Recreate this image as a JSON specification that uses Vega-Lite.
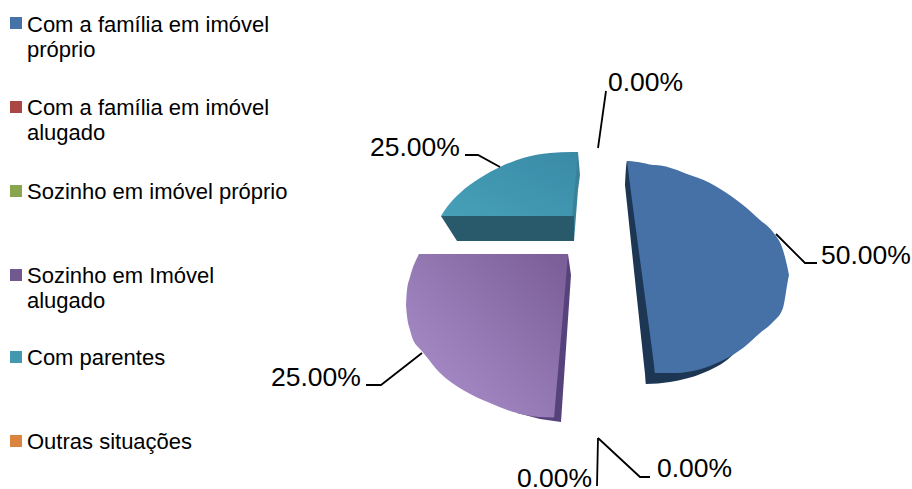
{"$schema":"https://vega.github.io/schema/vega-lite/v6.json","width":912,"height":489,"padding":0,"autosize":{"type":"none"},"background":"white","view":{"stroke":null},
"config":{"font":"Liberation Sans"},
"datasets":{
"legenda":[{"categoria":"Com a família em imóvel\npróprio","lx":16,"ly":23,"tx":27,"ty":32},{"categoria":"Com a família em imóvel\nalugado","lx":16,"ly":107,"tx":27,"ty":115},{"categoria":"Sozinho em imóvel próprio","lx":16,"ly":191,"tx":27,"ty":199},{"categoria":"Sozinho em Imóvel\nalugado","lx":16,"ly":275,"tx":27,"ty":283},{"categoria":"Com parentes","lx":16,"ly":357,"tx":27,"ty":365},{"categoria":"Outras situações","lx":16,"ly":441,"tx":27,"ty":449}],
"rotulos":[{"rotulo":"50.00%","x":821,"y":264},{"rotulo":"0.00%","x":608,"y":91},{"rotulo":"25.00%","x":370,"y":156},{"rotulo":"25.00%","x":271,"y":386},{"rotulo":"0.00%","x":657,"y":477},{"rotulo":"0.00%","x":517,"y":487}],
"guias":[{"g":"a","o":1,"x":776,"y":234},{"g":"a","o":2,"x":805,"y":263},{"g":"a","o":3,"x":817,"y":263},{"g":"b","o":1,"x":606,"y":91},{"g":"b","o":2,"x":598,"y":148},{"g":"c","o":1,"x":465,"y":155},{"g":"c","o":2,"x":478,"y":155},{"g":"c","o":3,"x":500,"y":167},{"g":"d","o":1,"x":366,"y":385},{"g":"d","o":2,"x":381,"y":385},{"g":"d","o":3,"x":422,"y":353},{"g":"e","o":1,"x":597,"y":486},{"g":"e","o":2,"x":598,"y":438},{"g":"f","o":1,"x":598,"y":438},{"g":"f","o":2,"x":640,"y":477},{"g":"f","o":3,"x":650,"y":477}],
"tealFace":[{"x":441,"y":216,"y2":216},{"x":447,"y":207,"y2":216},{"x":460,"y":193,"y2":216},{"x":480,"y":178,"y2":216},{"x":500,"y":167,"y2":216},{"x":523,"y":158,"y2":216},{"x":550,"y":153,"y2":216},{"x":572,"y":152,"y2":216},{"x":573,"y":152,"y2":205},{"x":577,"y":152,"y2":163},{"x":578,"y":152,"y2":152}],
"tealBase":[{"x":441,"y":216,"y2":216},{"x":457,"y":216,"y2":241},{"x":574,"y":216,"y2":241}],
"tealLado":[{"x":572,"y":152,"y2":216},{"x":574,"y":152,"y2":241},{"x":578,"y":152,"y2":190},{"x":580,"y":175,"y2":175}],
"roxoFace":[{"x":406,"y":305,"y2":305},{"x":407,"y":290,"y2":316},{"x":410,"y":277,"y2":330},{"x":412,"y":270,"y2":337},{"x":418,"y":256,"y2":347},{"x":419,"y":254,"y2":348},{"x":440,"y":254,"y2":373},{"x":463,"y":254,"y2":390},{"x":490,"y":254,"y2":403},{"x":517,"y":254,"y2":413},{"x":540,"y":254,"y2":417},{"x":554,"y":254,"y2":417.5},{"x":555,"y":254,"y2":406},{"x":567,"y":254,"y2":266},{"x":568,"y":254,"y2":254}],
"roxoLado":[{"x":517,"y":413,"y2":413},{"x":540,"y":400,"y2":419},{"x":554,"y":400,"y2":421},{"x":561,"y":254,"y2":422},{"x":568,"y":254,"y2":319},{"x":571,"y":275,"y2":275}],
"azulFace":[{"x":627,"y":161,"y2":161},{"x":628,"y":161,"y2":169},{"x":643,"y":163,"y2":282},{"x":654,"y":165,"y2":365},{"x":655,"y":165,"y2":373},{"x":677,"y":170,"y2":373},{"x":687,"y":174,"y2":372},{"x":710,"y":183,"y2":366},{"x":717,"y":187,"y2":363},{"x":743,"y":205,"y2":348},{"x":760,"y":220,"y2":333},{"x":773,"y":232,"y2":322},{"x":783,"y":250,"y2":308},{"x":788,"y":270,"y2":280},{"x":789,"y":275,"y2":275}],
"azulLado":[{"x":625,"y":185,"y2":185},{"x":627,"y":161,"y2":204},{"x":635,"y":165,"y2":280},{"x":645,"y":200,"y2":374},{"x":646,"y":200,"y2":384},{"x":670,"y":300,"y2":382},{"x":703,"y":300,"y2":373},{"x":727,"y":300,"y2":360},{"x":735,"y":340,"y2":353}]
},
"resolve":{"scale":{"color":"independent"}},
"encoding":{},
"layer":[
{"data":{"name":"tealLado"},"mark":{"type":"area","orient":"vertical","color":"#3a8199"},"encoding":{"x":{"field":"x","type":"quantitative","scale":{"domain":[0,912],"nice":false,"zero":false},"axis":null},"y":{"field":"y","type":"quantitative","scale":{"domain":[0,489],"reverse":true,"nice":false,"zero":false},"axis":null},"y2":{"field":"y2"}}},
{"data":{"name":"tealBase"},"mark":{"type":"area","orient":"vertical","color":"#285a6c"},"encoding":{"x":{"field":"x","type":"quantitative","axis":null},"y":{"field":"y","type":"quantitative","axis":null},"y2":{"field":"y2"}}},
{"data":{"name":"tealFace"},"mark":{"type":"area","orient":"vertical","interpolate":"monotone","color":{"gradient":"linear","x1":0,"y1":1,"x2":1,"y2":0,"stops":[{"offset":0,"color":"#46a0b8"},{"offset":1,"color":"#3a8aa6"}]}},"encoding":{"x":{"field":"x","type":"quantitative","axis":null},"y":{"field":"y","type":"quantitative","axis":null},"y2":{"field":"y2"}}},
{"data":{"name":"roxoLado"},"mark":{"type":"area","orient":"vertical","color":"#57437c"},"encoding":{"x":{"field":"x","type":"quantitative","axis":null},"y":{"field":"y","type":"quantitative","axis":null},"y2":{"field":"y2"}}},
{"data":{"name":"roxoFace"},"mark":{"type":"area","orient":"vertical","interpolate":"monotone","color":{"gradient":"linear","x1":0.1,"y1":0.85,"x2":0.95,"y2":0.05,"stops":[{"offset":0,"color":"#a78cc9"},{"offset":0.5,"color":"#9176b0"},{"offset":1,"color":"#7c5f98"}]}},"encoding":{"x":{"field":"x","type":"quantitative","axis":null},"y":{"field":"y","type":"quantitative","axis":null},"y2":{"field":"y2"}}},
{"data":{"name":"azulLado"},"mark":{"type":"area","orient":"vertical","interpolate":"monotone","color":"#1d3654"},"encoding":{"x":{"field":"x","type":"quantitative","axis":null},"y":{"field":"y","type":"quantitative","axis":null},"y2":{"field":"y2"}}},
{"data":{"name":"azulFace"},"mark":{"type":"area","orient":"vertical","interpolate":"monotone","color":"#4571a6"},"encoding":{"x":{"field":"x","type":"quantitative","axis":null},"y":{"field":"y","type":"quantitative","axis":null},"y2":{"field":"y2"}}},
{"data":{"name":"guias"},"mark":{"type":"line","color":"#000000","strokeWidth":1.8},"encoding":{"x":{"field":"x","type":"quantitative","axis":null},"y":{"field":"y","type":"quantitative","axis":null},"detail":{"field":"g"},"order":{"field":"o"}}},
{"data":{"name":"rotulos"},"mark":{"type":"text","align":"left","baseline":"alphabetic","fontSize":26.5,"color":"#000000"},"encoding":{"x":{"field":"x","type":"quantitative","axis":null},"y":{"field":"y","type":"quantitative","axis":null},"text":{"field":"rotulo"}}},
{"data":{"name":"legenda"},"mark":{"type":"point","shape":"square","filled":true,"size":144,"opacity":1},"encoding":{"x":{"field":"lx","type":"quantitative","axis":null},"y":{"field":"ly","type":"quantitative","axis":null},"color":{"field":"categoria","type":"nominal","legend":null,"sort":null,"scale":{"domain":["Com a família em imóvel\npróprio","Com a família em imóvel\nalugado","Sozinho em imóvel próprio","Sozinho em Imóvel\nalugado","Com parentes","Outras situações"],"range":["#4572a7","#aa4643","#89a54e","#71588f","#4198af","#db843d"]}}}},
{"data":{"name":"legenda"},"mark":{"type":"text","align":"left","baseline":"alphabetic","fontSize":22,"lineBreak":"\n","lineHeight":25,"color":"#000000"},"encoding":{"x":{"field":"tx","type":"quantitative","axis":null},"y":{"field":"ty","type":"quantitative","axis":null},"text":{"field":"categoria"}}}
]}
